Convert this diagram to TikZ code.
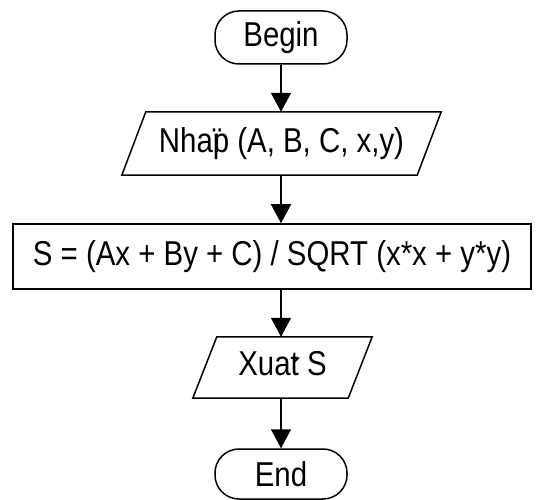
\documentclass[tikz,border=0pt]{standalone}
\usepackage{fontspec}
\setmainfont{Liberation Sans}
\usetikzlibrary{arrows.meta}
\newcommand\tallt[1]{\scalebox{0.98}[1.15]{#1}}
\begin{document}
\begin{tikzpicture}[x=1pt,y=-1pt,
  every node/.style={font=\fontsize{30}{36}\selectfont, inner sep=0pt},
  term/.style={draw, line width=1.5pt, rounded corners=24pt, minimum width=132pt},
  io/.style={draw=none, rectangle},
  proc/.style={draw, line width=1.5pt, rectangle},
  shape line/.style={line width=1.5pt, line join=miter},
  flow/.style={line width=1.5pt, -{Triangle[width=20pt,length=19pt]}}
]
\useasboundingbox (0,0) rectangle (539,500);
\node[term, minimum height=53pt] (b) at (281,37.5) {\tallt{Begin}};
\node[io, minimum width=295pt, minimum height=63pt] (p1) at (281.5,143.5) {\tallt{Nha\rlap{ï}p (A, B, C, x,y)}};
\draw[shape line] ([xshift=-12pt]p1.south west) -- ([xshift=12pt]p1.north west) -- ([xshift=12pt]p1.north east) -- ([xshift=-12pt]p1.south east) -- cycle;
\node[proc, minimum width=518pt, minimum height=65pt] (r) at (272,256.5) {\tallt{S = (Ax + By + C) / SQRT (x*x + y*y)}};
\node[io, minimum width=155pt, minimum height=61pt] (p2) at (282.5,367.5) {\tallt{Xua\rlap{\kern2pt\raisebox{-7pt}{´}}t S}};
\draw[shape line] ([xshift=-12pt]p2.south west) -- ([xshift=12pt]p2.north west) -- ([xshift=12pt]p2.north east) -- ([xshift=-12pt]p2.south east) -- cycle;
\node[term, minimum height=50pt] (e) at (281,474) {\tallt{End}};
\draw[flow] (b.south) -- (b.south |- p1.north);
\draw[flow] (b.south |- p1.south) -- (b.south |- r.north);
\draw[flow] (b.south |- r.south) -- (b.south |- p2.north);
\draw[flow] (b.south |- p2.south) -- (e.north);
\end{tikzpicture}
\end{document}
